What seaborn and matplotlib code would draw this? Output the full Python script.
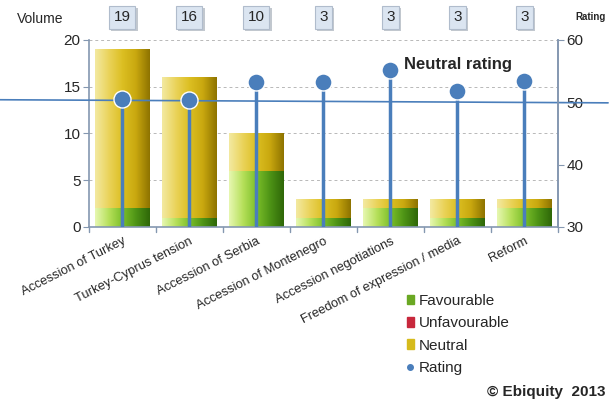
import numpy as np
import pandas as pd
import matplotlib.pyplot as plt
import seaborn as sns
from matplotlib.lines import Line2D
from matplotlib.patches import Patch
from matplotlib.colors import LinearSegmentedColormap
import matplotlib.patheffects as pe

# Data
topics = ['Accession of Turkey', 'Turkey-Cyprus tension', 'Accession of Serbia',
          'Accession of Montenegro', 'Accession negotiations',
          'Freedom of expression / media', 'Reform']
favourable = [2, 1, 6, 1, 2, 1, 2]
unfavourable = [0, 0, 0, 0, 0, 0, 0]
neutral = [17, 15, 4, 2, 1, 2, 1]
rating = [50.5, 50.4, 53.3, 53.3, 55.2, 51.8, 53.4]
neutral_rating = 50

df = pd.DataFrame({'topic': topics, 'fav': favourable, 'unfav': unfavourable,
                   'neutral': neutral, 'rating': rating})
df['total'] = df['fav'] + df['unfav'] + df['neutral']

sns.set_style('white')
plt.rcParams['font.family'] = ['Liberation Sans', 'DejaVu Sans']

fig = plt.figure(figsize=(6.09, 4.03), dpi=100)
ax = fig.add_axes([0.146, 0.437, 0.77, 0.464])

green = '#6aa823'
yellow = '#d6bb1c'
red = '#c8283c'
blue = '#4a7ebb'
axis_col = '#8497b0'

# stacked bars: total drawn in neutral, favourable on top of it
sns.barplot(data=df, x='topic', y='total', color=yellow, width=0.82,
            saturation=1, ax=ax, edgecolor='none')
sns.barplot(data=df, x='topic', y='fav', color=green, width=0.82,
            saturation=1, ax=ax, edgecolor='none')

# shaded look of the bars: light on the left, dark on the right
yellow_cm = LinearSegmentedColormap.from_list(
    'y', ['#f3e9a0', '#ead35a', '#dcbf22', '#c9a80f', '#8f7400'])
green_cm = LinearSegmentedColormap.from_list(
    'g', ['#e6f7b0', '#b6e05a', '#7cbf2a', '#4e9416', '#2f6808'])
grad = np.linspace(0, 1, 64).reshape(1, -1)
bars = list(ax.patches)
for k, p in enumerate(bars):
    if p.get_height() <= 0:
        continue
    cm = yellow_cm if k < len(topics) else green_cm
    x0, w = p.get_x(), p.get_width()
    im = ax.imshow(grad, cmap=cm, aspect='auto', interpolation='bicubic',
                   extent=[x0, x0 + w, p.get_y(), p.get_y() + p.get_height()],
                   zorder=p.get_zorder() + 0.1 * (k >= len(topics)))
    im.set_clip_path(p)

ax.set_ylim(0, 20)
ax.set_xlim(-0.5, len(topics) - 0.5)
ax.set_yticks([0, 5, 10, 15, 20])
ax.yaxis.grid(True, linestyle=(0, (3, 3)), color='#b8b8b8', linewidth=0.7)
ax.set_axisbelow(True)
ax.set_xlabel('')
ax.set_ylabel('')
ax.tick_params(axis='y', labelsize=11, length=4, color=axis_col, pad=2)
ax.set_xticks(range(len(topics)))
ax.set_xticklabels(topics, rotation=27, ha='right', rotation_mode='anchor',
                   fontsize=9.3)
ax.tick_params(axis='x', length=0, pad=6)
for x in range(len(topics) + 1):
    ax.plot([x - 0.5, x - 0.5], [0, -0.5], color=axis_col, lw=1, clip_on=False)
ax.spines['top'].set_visible(False)
for side in ['left', 'bottom', 'right']:
    ax.spines[side].set_color(axis_col)
    ax.spines[side].set_linewidth(1.2)

# rating axis
ax2 = ax.twinx()
ax2.set_ylim(30, 60)
ax2.set_yticks([30, 40, 50, 60])
ax2.tick_params(axis='y', labelsize=11, length=4, color=axis_col, pad=2)
for side in ['top', 'left', 'bottom']:
    ax2.spines[side].set_visible(False)
ax2.spines['right'].set_color(axis_col)
ax2.spines['right'].set_linewidth(1.2)

ax2.plot([-0.5 - 1.35, len(topics) - 0.5 + 0.75], [neutral_rating + 0.4, neutral_rating - 0.1],
         color=blue, lw=1.2, clip_on=False, zorder=2)
ax2.vlines(range(len(topics)), 30, df['rating'], color=blue, lw=2.5, zorder=3)
sns.scatterplot(x=list(range(len(topics))), y=df['rating'], ax=ax2, s=150,
                color=blue, edgecolor='white', linewidth=1, zorder=4, legend=False)
ax2.set_ylabel('')
ax2.text(4.2, 56.0, 'Neutral rating', fontsize=12, fontweight='bold', va='center')

# totals in boxes above, with a soft shadow
for i, t in enumerate(df['total']):
    ax.text(i, 22.4, str(t), ha='center', va='center', fontsize=11,
            bbox=dict(boxstyle='square,pad=0.3', fc='#dbe5f1', ec='#b0bccc', lw=0.8,
                      path_effects=[pe.SimplePatchShadow(offset=(1.5, -1.5),
                                                         shadow_rgbFace='#9aa4b0', alpha=0.6),
                                    pe.Normal()]),
            clip_on=False)

fig.text(0.028, 0.952, 'Volume', fontsize=10, ha='left', va='center')
fig.text(0.945, 0.957, 'Rating', fontsize=7, fontweight='bold', ha='left', va='center')

handles = [Patch(color=green, label='Favourable'),
           Patch(color=red, label='Unfavourable'),
           Patch(color=yellow, label='Neutral'),
           Line2D([], [], marker='o', color=blue, lw=0, markersize=4, label='Rating')]
fig.legend(handles=handles, loc='upper left', bbox_to_anchor=(0.655, 0.29),
           frameon=False, fontsize=11, handlelength=0.5, handleheight=0.6,
           handletextpad=0.3, labelspacing=0.55, borderpad=0)

fig.text(0.995, 0.01, '\u00a9 Ebiquity  2013', fontsize=11, fontweight='bold',
         ha='right', va='bottom')

plt.savefig('out.png', dpi=100)
